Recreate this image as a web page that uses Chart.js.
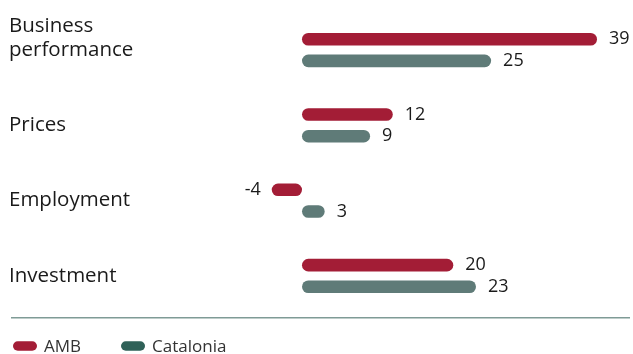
<!DOCTYPE html>
<html>
<head>
<meta charset="utf-8">
<script src="https://cdn.jsdelivr.net/npm/chart.js@4/dist/chart.umd.min.js"></script>
<style>
  html, body { margin: 0; padding: 0; background: #ffffff; }
  #wrap { width: 633px; height: 354px; position: relative; }
</style>
</head>
<body>
<div id="wrap"><canvas id="c" width="633" height="354"></canvas></div>
<script>
const categories = [["Business", "performance", ""], "Prices", "Employment", "Investment"];
const seriesNames = ["AMB", "Catalonia"];
const ambValues = [39, 12, -4, 20];
const cataloniaValues = [25, 9, 3, 23];

const FONT = "'Open Sans', 'Noto Sans', sans-serif";
const barColors = ["#a31d36", "#5f7b78"];
const legendColors = ["#a31d36", "#2f6158"];

const valueLabels = {
  id: 'valueLabels',
  afterDatasetsDraw(chart) {
    const ctx = chart.ctx;
    ctx.save();
    ctx.font = "18px " + FONT;
    ctx.fillStyle = "#1a1a1a";
    ctx.textBaseline = "middle";
    chart.data.datasets.forEach((ds, di) => {
      const meta = chart.getDatasetMeta(di);
      meta.data.forEach((bar, i) => {
        const v = ds.data[i];
        if (v < 0) {
          ctx.textAlign = "right";
          ctx.fillText(String(v), bar.x - 11, bar.y);
        } else {
          ctx.textAlign = "left";
          ctx.fillText(String(v), bar.x + 12, bar.y);
        }
      });
    });
    ctx.restore();
  }
};

const bottomLegend = {
  id: 'bottomLegend',
  afterDraw(chart) {
    const ctx = chart.ctx;
    ctx.save();
    ctx.strokeStyle = "#7f9b96";
    ctx.lineWidth = 1.6;
    ctx.beginPath();
    ctx.moveTo(11, 317.7);
    ctx.lineTo(630, 317.7);
    ctx.stroke();
    ctx.font = "17px " + FONT;
    ctx.textBaseline = "middle";
    ctx.textAlign = "left";
    let x = 13;
    const y = 346;
    chart.data.datasets.forEach((ds) => {
      ctx.fillStyle = ds.legendColor;
      const w = 24, h = 9.5, r = 4.75;
      ctx.beginPath();
      ctx.roundRect(x, y - h / 2, w, h, r);
      ctx.fill();
      ctx.fillStyle = "#333333";
      ctx.fillText(ds.label, x + w + 7, y + 1);
      x += w + 7 + ctx.measureText(ds.label).width + 40;
    });
    ctx.restore();
  }
};

const chart = new Chart(document.getElementById('c'), {
  type: 'bar',
  data: {
    labels: categories,
    datasets: [
      { label: seriesNames[0], data: ambValues, backgroundColor: barColors[0], legendColor: legendColors[0] },
      { label: seriesNames[1], data: cataloniaValues, backgroundColor: barColors[1], legendColor: legendColors[1] }
    ]
  },
  options: {
    indexAxis: 'y',
    responsive: false,
    animation: false,
    devicePixelRatio: 1,
    layout: { padding: { left: 9, right: 13.3, top: 12.4, bottom: 40.4 } },
    datasets: {
      bar: {
        categoryPercentage: 0.575,
        barPercentage: 0.58,
        borderRadius: 6.5,
        borderSkipped: false
      }
    },
    scales: {
      x: {
        display: false,
        min: -10,
        max: 42
      },
      y: {
        grid: { display: false },
        border: { display: false },
        afterFit(scale) { scale.width = 217.36; },
        ticks: {
          crossAlign: 'far',
          color: "#1a1a1a",
          font: { family: FONT, size: 20.5, lineHeight: 1.15 },
          padding: 0
        }
      }
    },
    plugins: {
      legend: { display: false },
      tooltip: { enabled: false }
    }
  },
  plugins: [valueLabels, bottomLegend]
});
</script>
</body>
</html>
